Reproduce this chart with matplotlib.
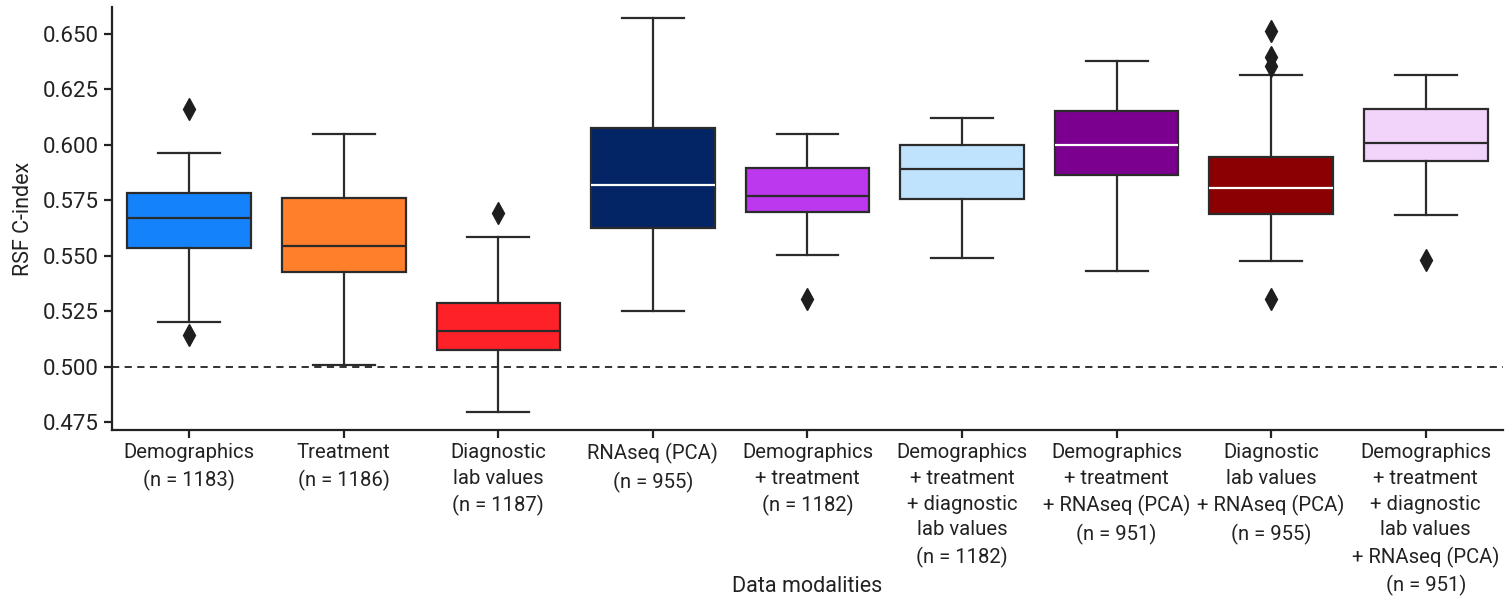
import matplotlib.pyplot as plt
from matplotlib.ticker import FormatStrFormatter

# Box statistics (RSF C-index per data modality)
labels = [
    'Demographics\n(n = 1183)',
    'Treatment\n(n = 1186)',
    'Diagnostic\nlab values\n(n = 1187)',
    'RNAseq (PCA)\n(n = 955)',
    'Demographics\n+ treatment\n(n = 1182)',
    'Demographics\n+ treatment\n+ diagnostic\nlab values\n(n = 1182)',
    'Demographics\n+ treatment\n+ RNAseq (PCA)\n(n = 951)',
    'Diagnostic\nlab values\n+ RNAseq (PCA)\n(n = 955)',
    'Demographics\n+ treatment\n+ diagnostic\nlab values\n+ RNAseq (PCA)\n(n = 951)',
]
whislo = [0.520, 0.5007, 0.4796, 0.5251, 0.5505, 0.549, 0.5431, 0.5475, 0.5682]
q1 = [0.5535, 0.5429, 0.5077, 0.5625, 0.5697, 0.5756, 0.5863, 0.5687, 0.5927]
med = [0.5669, 0.5543, 0.5160, 0.5817, 0.5768, 0.5891, 0.6001, 0.5805, 0.6007]
q3 = [0.5781, 0.5758, 0.5286, 0.6077, 0.5894, 0.6001, 0.6154, 0.5944, 0.6160]
whishi = [0.5965, 0.6047, 0.5583, 0.6570, 0.6050, 0.6122, 0.6378, 0.6316, 0.6314]
fliers = [
    [0.616, 0.5143],
    [],
    [0.5693],
    [],
    [0.5303],
    [],
    [],
    [0.6513, 0.6395, 0.6354, 0.5303],
    [0.548],
]
colors = ['#1483FB', '#FF7F2A', '#FF2128', '#032566', '#BB38EE',
          '#BFE3FC', '#7B008F', '#8B0000', '#F2D4FB']
median_colors = ['#2b2b2b', '#2b2b2b', '#2b2b2b', 'white', '#2b2b2b',
                 '#2b2b2b', 'white', 'white', '#2b2b2b']

plt.rcParams['font.family'] = ['Roboto', 'DejaVu Sans']

stats = []
for i in range(len(labels)):
    stats.append({'whislo': whislo[i], 'q1': q1[i], 'med': med[i], 'q3': q3[i],
                  'whishi': whishi[i], 'fliers': fliers[i]})

fig = plt.figure(figsize=(15.11, 5.98), dpi=100)
ax = fig.add_axes([0.0741, 0.281, 0.9206, 0.707])

edge = '#2b2b2b'
bp = ax.bxp(stats, positions=range(len(labels)), widths=0.8, patch_artist=True,
            boxprops=dict(edgecolor=edge, linewidth=1.6),
            whiskerprops=dict(color=edge, linewidth=1.6),
            capprops=dict(color=edge, linewidth=1.6),
            medianprops=dict(linewidth=1.6),
            flierprops=dict(marker='d', markerfacecolor='#1e1e1e', markeredgecolor='#1e1e1e',
                            markersize=11))
for patch, c in zip(bp['boxes'], colors):
    patch.set_facecolor(c)
for line, c in zip(bp['medians'], median_colors):
    line.set_color(c)

ax.axhline(0.5, color='#222222', linestyle='--', linewidth=1.3, dashes=(4, 3), zorder=0)

ax.set_xlim(-0.5, len(labels) - 0.5)
ax.set_ylim(0.4715, 0.662)
ax.set_yticks([0.475, 0.500, 0.525, 0.550, 0.575, 0.600, 0.625, 0.650])
ax.yaxis.set_major_formatter(FormatStrFormatter('%.3f'))
ax.set_xticks(range(len(labels)))
ax.set_xticklabels(labels, fontsize=14.6, linespacing=1.45, color='#222222')
ax.tick_params(axis='y', labelsize=16, colors='#222222', width=1.6, length=6)
ax.tick_params(axis='x', width=1.6, length=6, colors='#222222')

ax.spines['top'].set_visible(False)
ax.spines['right'].set_visible(False)
ax.spines['left'].set_linewidth(1.6)
ax.spines['bottom'].set_linewidth(1.6)
ax.spines['left'].set_color('#222222')
ax.spines['bottom'].set_color('#222222')

ax.set_ylabel('RSF C-index', fontsize=15.5, color='#222222', labelpad=6)
ax.set_xlabel('Data modalities', fontsize=15.5, color='#222222')
ax.xaxis.set_label_coords(0.5, -0.345)

fig.savefig('out.png', dpi=100)
